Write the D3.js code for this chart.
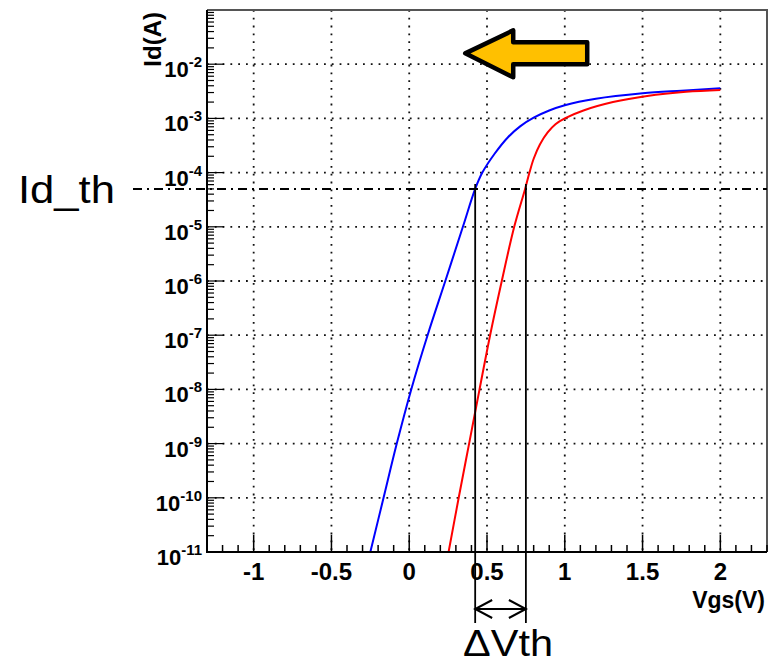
<!DOCTYPE html>
<html>
<head>
<meta charset="utf-8">
<script src="https://cdn.jsdelivr.net/npm/d3@7"></script>
<style>
  body { margin: 0; background: #fff; }
  svg text { font-family: "Liberation Sans", Arial, sans-serif; }
</style>
</head>
<body>
<svg id="chart" width="773" height="664"></svg>
<script>
// Id-Vgs curves
var vgsBlue = [-0.25, -0.165, -0.08, 0.013, 0.118, 0.232, 0.345, 0.424, 0.47, 0.55, 0.635, 0.715, 0.80, 0.90, 1.0, 1.2, 1.5, 1.75, 2.0];
var idBlue  = [1e-11, 1e-10, 1e-9, 1e-8, 1e-7, 1e-6, 1e-5, 5e-5, 1e-4, 2.25e-4, 4.5e-4, 7.2e-4, 1.03e-3, 1.4e-3, 1.75e-3, 2.3e-3, 2.9e-3, 3.25e-3, 3.6e-3];

var vgsRed = [0.253, 0.318, 0.385, 0.452, 0.52, 0.595, 0.675, 0.745, 0.773, 0.80, 0.84, 0.89, 0.94, 1.0, 1.12, 1.31, 1.53, 1.78, 2.0];
var idRed  = [1e-11, 1e-10, 1e-9, 1e-8, 1e-7, 1e-6, 1e-5, 5e-5, 1e-4, 1.8e-4, 3.3e-4, 5.5e-4, 7.8e-4, 1e-3, 1.4e-3, 2.0e-3, 2.6e-3, 3.1e-3, 3.35e-3];

var idTh = 5e-5;
var vthBlue = 0.424;
var vthRed = 0.75;

var xTickValues = [-1, -0.5, 0, 0.5, 1, 1.5, 2];
var xTickLabels = ["-1", "-0.5", "0", "0.5", "1", "1.5", "2"];
var yExponents = [-11, -10, -9, -8, -7, -6, -5, -4, -3, -2];

var svg = d3.select("#chart");

var x = d3.scaleLinear().domain([-1.3, 2.3]).range([207, 767]);
var y = d3.scaleLog().domain([1e-11, 1e-1]).range([552, 10]);

var left = x.range()[0], right = x.range()[1];
var top_ = y.range()[1], bottom = y.range()[0];

// grid
var grid = svg.append("g")
    .attr("stroke", "#111")
    .attr("stroke-width", 1.8)
    .attr("stroke-dasharray", "1.8,6");

grid.selectAll(".gx")
    .data(xTickValues)
    .enter().append("line")
    .attr("x1", function(d) { return x(d); })
    .attr("x2", function(d) { return x(d); })
    .attr("y1", top_)
    .attr("y2", bottom);

grid.selectAll(".gy")
    .data(yExponents.filter(function(e) { return e > -11; }))
    .enter().append("line")
    .attr("x1", left)
    .attr("x2", right)
    .attr("y1", function(e) { return y(Math.pow(10, e)); })
    .attr("y2", function(e) { return y(Math.pow(10, e)); });

// frame top/right
svg.append("path")
    .attr("d", "M" + left + "," + top_ + "H" + right + "V" + bottom)
    .attr("fill", "none")
    .attr("stroke", "#555")
    .attr("stroke-width", 2);

// curves
svg.append("clipPath").attr("id", "plotclip")
    .append("rect")
    .attr("x", left).attr("y", top_)
    .attr("width", right - left).attr("height", bottom - top_);

var line = d3.line()
    .x(function(d) { return x(d[0]); })
    .y(function(d) { return y(d[1]); })
    .curve(d3.curveCatmullRom.alpha(0.5));

svg.append("path")
    .datum(d3.zip(vgsBlue, idBlue))
    .attr("clip-path", "url(#plotclip)")
    .attr("d", line)
    .attr("fill", "none")
    .attr("stroke", "#0000ff")
    .attr("stroke-width", 2);

svg.append("path")
    .datum(d3.zip(vgsRed, idRed))
    .attr("clip-path", "url(#plotclip)")
    .attr("d", line)
    .attr("fill", "none")
    .attr("stroke", "#ff0000")
    .attr("stroke-width", 2);

// x axis ticks
var xMinor = d3.range(-13, 24).map(function(i) { return i / 10; });
svg.append("g").selectAll("line")
    .data(xMinor)
    .enter().append("line")
    .attr("x1", function(d) { return x(d); })
    .attr("x2", function(d) { return x(d); })
    .attr("y1", bottom)
    .attr("y2", function(d) {
        var major = Math.abs(d * 2 - Math.round(d * 2)) < 1e-6;
        return bottom - (major ? 17 : 7);
    })
    .attr("stroke", "#000")
    .attr("stroke-width", 1.5);

svg.append("g").selectAll("text")
    .data(xTickValues)
    .enter().append("text")
    .attr("x", function(d) { return x(d); })
    .attr("y", 580)
    .attr("text-anchor", "middle")
    .attr("font-size", 24)
    .attr("font-weight", "bold")
    .text(function(d, i) { return xTickLabels[i]; });

// y axis ticks
var yMinor = [];
yExponents.forEach(function(e) {
    for (var m = 2; m <= 9; m++) yMinor.push(m * Math.pow(10, e));
});
svg.append("g").selectAll("line")
    .data(yMinor.concat(yExponents.map(function(e) { return Math.pow(10, e); })))
    .enter().append("line")
    .attr("x1", left)
    .attr("x2", function(d) {
        var lg = Math.log10(d);
        return left + (Math.abs(lg - Math.round(lg)) < 1e-6 ? 17 : 7);
    })
    .attr("y1", function(d) { return y(d); })
    .attr("y2", function(d) { return y(d); })
    .attr("stroke", "#000")
    .attr("stroke-width", 1.2);

var yLab = svg.append("g").selectAll("text")
    .data(yExponents)
    .enter().append("text")
    .attr("x", 202)
    .attr("y", function(e) { return y(Math.pow(10, e)) + 13; })
    .attr("text-anchor", "end")
    .attr("font-weight", "bold")
    .attr("font-size", 22);
yLab.append("tspan").text("10");
yLab.append("tspan")
    .attr("dy", -10)
    .attr("font-size", 15)
    .text(function(e) { return String(e); });

// axis lines
svg.append("path")
    .attr("d", "M" + left + "," + top_ + "V" + bottom + "H" + right)
    .attr("fill", "none")
    .attr("stroke", "#000")
    .attr("stroke-width", 2);

// axis titles
svg.append("text")
    .attr("transform", "translate(161," + (top_ + 2) + ") rotate(-90)")
    .attr("text-anchor", "end")
    .attr("font-weight", "bold")
    .attr("font-size", 24)
    .text("Id(A)");

svg.append("text")
    .attr("x", 765)
    .attr("y", 608)
    .attr("text-anchor", "end")
    .attr("font-weight", "bold")
    .attr("font-size", 23)
    .text("Vgs(V)");

// threshold annotation
svg.append("line")
    .attr("x1", 133).attr("x2", right)
    .attr("y1", y(idTh)).attr("y2", y(idTh))
    .attr("stroke", "#000")
    .attr("stroke-width", 2)
    .attr("stroke-dasharray", "9,5,2,5");

[vthBlue, vthRed].forEach(function(v) {
    svg.append("line")
        .attr("x1", x(v)).attr("x2", x(v))
        .attr("y1", y(idTh) - 5).attr("y2", 623)
        .attr("stroke", "#000")
        .attr("stroke-width", 1.8);
});

var ay = 609;
svg.append("path")
    .attr("d", "M" + x(vthBlue) + "," + ay + "H" + x(vthRed) +
        "M" + (x(vthBlue) + 17) + "," + (ay - 9) + "L" + x(vthBlue) + "," + ay + "L" + (x(vthBlue) + 17) + "," + (ay + 9) +
        "M" + (x(vthRed) - 17) + "," + (ay - 9) + "L" + x(vthRed) + "," + ay + "L" + (x(vthRed) - 17) + "," + (ay + 9))
    .attr("fill", "none")
    .attr("stroke", "#000")
    .attr("stroke-width", 2);

svg.append("text")
    .attr("x", 18)
    .attr("y", 203)
    .attr("font-family", "'Open Sans', sans-serif")
    .attr("font-size", 39)
    .attr("textLength", 97)
    .attr("lengthAdjust", "spacingAndGlyphs")
    .text("Id_th");

svg.append("text")
    .attr("x", 463)
    .attr("y", 656)
    .attr("font-family", "'Open Sans', sans-serif")
    .attr("font-size", 36)
    .attr("textLength", 90)
    .attr("lengthAdjust", "spacingAndGlyphs")
    .text("ΔVth");

// orange shift arrow (anchored near Vgs=0.36, Id=10^-1.8)
var ax = x(0.36), ayy = y(Math.pow(10, -1.8));
var arrowPts = [[0, 0], [48, -23], [48, -11], [122, -11], [122, 11], [48, 11], [48, 24]];
svg.append("path")
    .attr("d", "M" + arrowPts.map(function(p) { return (ax + p[0]) + "," + (ayy + p[1]); }).join("L") + "Z")
    .attr("fill", "#ffc000")
    .attr("stroke", "#000")
    .attr("stroke-width", 4.5)
    .attr("stroke-linejoin", "round");
</script>
</body>
</html>
